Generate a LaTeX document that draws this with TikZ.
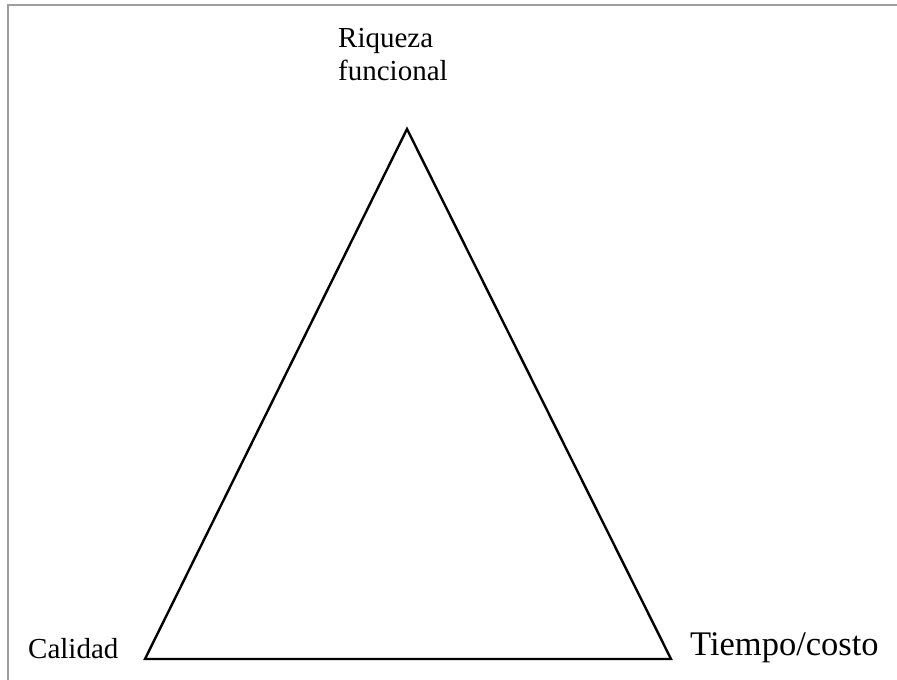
\documentclass[tikz,border=0pt]{standalone}
\usepackage{fontspec}
\setmainfont{Liberation Serif}
\usetikzlibrary{positioning}
\tikzset{
  vlabel/.style = {inner sep=0pt, anchor=base west, align=left,
                   font=\fontsize{29}{33}\selectfont},
  biglabel/.style = {inner sep=0pt, anchor=base west,
                   font=\fontsize{34.5}{40}\selectfont},
  side/.style   = {line width=2.4pt, line join=miter},
  frame/.style  = {draw=black!38, line width=2.2pt},
}
\begin{document}
\begin{tikzpicture}[x=1pt,y=-1pt]
  \useasboundingbox (0,0) rectangle (897,680);
  \draw[frame] (8,680) -- (8,5) -- (897,5);

  \coordinate (apex) at (407,129);
  \coordinate (qual) at (145,659);
  \coordinate (cost) at (671,659);
  \draw[side] (apex) -- (qual) -- (cost) -- cycle;

  % last line sits on the base anchor
  \node[vlabel] (riq) at (338,80) {Riqueza\\funcional};
  \node[vlabel] (cal) at (28,658) {Calidad};
  \node[biglabel] (tie) at (690,655) {Tiempo/costo};
\end{tikzpicture}
\end{document}
